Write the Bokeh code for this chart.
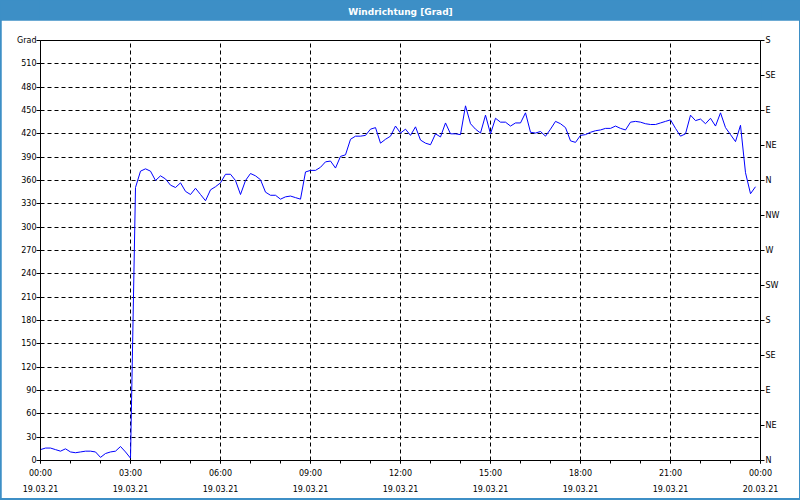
from bokeh.plotting import figure
from bokeh.models import FixedTicker, LinearAxis, Range1d
from bokeh.layouts import column
from bokeh.core.properties import value
from bokeh.embed import file_html
from bokeh.resources import INLINE

TITLE = "Windrichtung [Grad]"
BLUE = "#3d8fc6"
FONT = "DejaVu Sans"

# wind direction, one reading every 10 minutes from 19.03.21 00:00
minutes = list(range(0, 1440, 10))
direction = [
    14, 16, 16, 14, 12, 15, 11, 10, 11, 12, 12, 11, 4, 9, 11, 12, 18, 11,
    3, 351, 372, 375, 372, 360, 366, 362, 354, 351, 357, 346, 342, 350,
    342, 334, 348, 352, 357, 368, 368, 360, 342, 360, 369, 366, 361, 345,
    341, 341, 336, 339, 340, 338, 336, 371, 373, 373, 377, 384, 385, 376,
    391, 393, 413, 417, 417, 418, 426, 428, 408, 413, 417, 430, 421, 426,
    418, 429, 412, 408, 406, 420, 416, 434, 420, 420, 419, 456, 433, 426,
    421, 444, 420, 440, 435, 435, 430, 434, 434, 447, 422, 421, 423, 417,
    426, 436, 433, 428, 411, 409, 418, 419, 422, 424, 425, 427, 427, 430,
    427, 425, 435, 436, 435, 433, 432, 432, 434, 436, 438, 427, 417, 420,
    444, 437, 439, 433, 440, 430, 447, 428, 419, 410, 431, 370, 343, 352,
]
hours = [m / 60 for m in minutes]

x_ticks = [0, 3, 6, 9, 12, 15, 18, 21, 24]
x_times = ["00:00", "03:00", "06:00", "09:00", "12:00", "15:00", "18:00", "21:00", "00:00"]
x_dates = ["19.03.21"] * 8 + ["20.03.21"]
y_ticks = list(range(0, 541, 30))
dir_ticks = list(range(0, 541, 45))
dir_labels = ["N", "NE", "E", "SE", "S", "SW", "W", "NW", "N", "NE", "E", "SE", "S"]

# ---- title bar ----
tf = figure(width=800, height=20, x_range=Range1d(0, 1), y_range=Range1d(0, 1),
            output_backend="svg", toolbar_location=None, min_border=0,
            x_axis_location=None, y_axis_location=None)
tf.grid.visible = False
tf.outline_line_color = None
tf.background_fill_color = BLUE
tf.border_fill_color = BLUE
tf.text(x=[0.5], y=[0.45], text=[TITLE], text_align="center", text_baseline="middle",
        text_color="white", text_font=value(FONT), text_font_size="9px",
        text_font_style="bold")

# ---- main chart ----
p = figure(width=798, height=478, x_range=Range1d(0, 24), y_range=Range1d(0, 540),
           output_backend="svg", toolbar_location=None,
           min_border_left=39, min_border_right=39, min_border_top=20, min_border_bottom=38,
           margin=(0, 1, 2, 1))
p.background_fill_color = "white"
p.border_fill_color = "white"
p.outline_line_color = "black"
p.outline_line_width = 1

p.line(hours, direction, line_color="#0000ff", line_width=1)

# x axis
xa = p.xaxis[0]
xa.ticker = FixedTicker(ticks=x_ticks, minor_ticks=list(range(25)))
xa.major_label_overrides = {t: f"{a}\n{b}" for t, a, b in zip(x_ticks, x_times, x_dates)}
xa.major_tick_out = 3
xa.major_tick_in = 0
xa.minor_tick_out = 3
xa.minor_tick_in = 0
xa.major_label_standoff = 5
xa.major_label_text_line_height = 1.85
xa.axis_line_color = "black"
xa.major_tick_line_color = "black"
xa.minor_tick_line_color = "black"
xa.major_label_text_font = FONT
xa.major_label_text_font_size = "8px"
xa.major_label_text_color = "black"

# left axis
ya = p.yaxis[0]
ya.ticker = FixedTicker(ticks=y_ticks)
ya.major_label_overrides = {540: "Grad"}
ya.major_tick_out = 4
ya.major_tick_in = 0
ya.minor_tick_line_color = None
ya.major_label_standoff = 0
ya.axis_line_color = "black"
ya.major_tick_line_color = "black"
ya.major_label_text_font = FONT
ya.major_label_text_font_size = "8px"
ya.major_label_text_color = "black"

# right axis (compass)
ra = LinearAxis(ticker=FixedTicker(ticks=dir_ticks))
ra.major_label_overrides = dict(zip(dir_ticks, dir_labels))
ra.major_tick_out = 4
ra.major_tick_in = 0
ra.minor_tick_line_color = None
ra.major_label_standoff = 1
ra.axis_line_color = "black"
ra.major_tick_line_color = "black"
ra.major_label_text_font = FONT
ra.major_label_text_font_size = "8px"
ra.major_label_text_color = "black"
p.add_layout(ra, "right")

# grids
p.xgrid.ticker = FixedTicker(ticks=x_ticks[1:-1])
p.ygrid.ticker = FixedTicker(ticks=y_ticks[1:-1])
for g in (p.xgrid[0], p.ygrid[0]):
    g.grid_line_color = "black"
    g.grid_line_dash = "4 3"
    g.grid_line_width = 1
    g.grid_line_alpha = 1

layout = column(tf, p, styles={"background-color": BLUE}, spacing=0)

open("out.html", "w").write(file_html(layout, INLINE))
